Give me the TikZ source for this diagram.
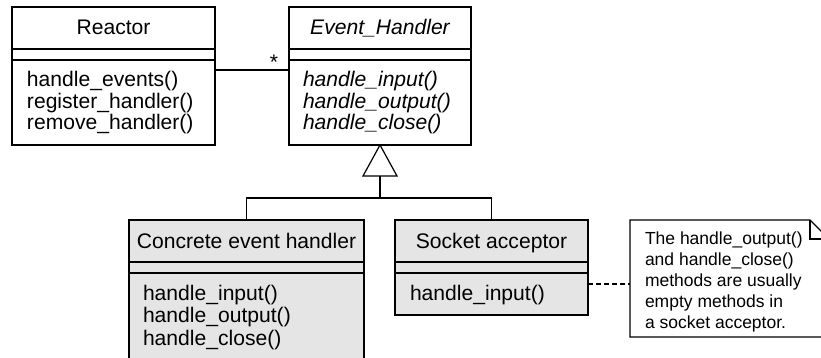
\documentclass[tikz,border=0pt]{standalone}
\usepackage{fontspec}
\setmainfont{Liberation Sans}
\usetikzlibrary{calc}
\begin{document}
\begin{tikzpicture}[x=1pt,y=-1pt,
  line width=1.2pt,
  classbox/.style={draw=black,inner sep=0pt,outer sep=0pt,anchor=north west},
  implbox/.style={classbox,fill=black!10},
  txt/.style={inner sep=0pt,outer sep=0pt,font=\fontsize{21.1}{22}\selectfont},
  ttl/.style={txt,anchor=base},
  member/.style={txt,anchor=base west},
  notetxt/.style={inner sep=0pt,outer sep=0pt,anchor=base west,font=\fontsize{17.5}{21}\selectfont}]
\clip (0,0) rectangle (821,358);
\fill[white] (0,0) rectangle (821,358);

% Reactor class
\node[classbox,minimum width=203pt,minimum height=138pt] (reactor) at (12,7) {};
\draw (12,49) -- (215,49) (12,60) -- (215,60);
\node[ttl] (reactorT) at (113.5,35) {Reactor};
\node[member] (r1) at (27,87) {handle\_events()};
\node[member] (r2) at (27,108.5) {register\_handler()};
\node[member] (r3) at (27,130) {remove\_handler()};

% Abstract Event_Handler class
\node[classbox,minimum width=182pt,minimum height=138pt] (evh) at (289,7) {};
\draw (289,49) -- (471,49) (289,60) -- (471,60);
\node[ttl] (evhT) at (380,35) {\itshape Event\_Handler};
\node[member] (e1) at (303,87) {\itshape handle\_input()};
\node[member] (e2) at (303,108.5) {\itshape handle\_output()};
\node[member] (e3) at (303,130) {\itshape handle\_close()};

% association with multiplicity
\draw ([yshift=6pt]reactor.east) -- ([yshift=6pt]evh.east -| evh.west);
\node[txt,anchor=base] (mult) at (274,70) {*};

% Concrete event handler
\node[implbox,minimum width=235pt,minimum height=150pt] (conc) at (129,220) {};
\draw (129,262) -- (364,262) (129,273) -- (364,273);
\node[ttl] (concT) at (246.5,248) {Concrete event handler};
\node[member] (c1) at (143,300) {handle\_input()};
\node[member] (c2) at (143,322.5) {handle\_output()};
\node[member] (c3) at (143,345) {handle\_close()};

% Socket acceptor
\node[implbox,minimum width=193pt,minimum height=95pt] (sock) at (395,220) {};
\draw (395,262) -- (588,262) (395,273) -- (588,273);
\node[ttl] (sockT) at (491.5,248) {Socket acceptor};
\node[member] (s1) at (410,300) {handle\_input()};

% generalization
\draw (evh.south) -- ++(-17,31) coordinate (tl) -- ++(34,0) -- cycle;
\coordinate (tb) at ($(evh.south)+(0,31)$);
\draw (tb) -- (tb |- 0,198);
\draw (conc.north) -- ++(0,-22) -| (sock.north);

% note
\node[inner sep=0pt,outer sep=0pt,anchor=north west,minimum width=199pt,minimum height=117pt] (note) at (630,220) {};
\draw[fill=white] (630,220) -- (810,220) -- (829,239) -- (829,337) -- (630,337) -- cycle;
\draw (810,220) -- (810,239) -- (829,239);
\node[notetxt] (n1) at (645,244) {The handle\_output()};
\node[notetxt] (n2) at (645,265) {and handle\_close()};
\node[notetxt] (n3) at (645,286) {methods are usually};
\node[notetxt] (n4) at (645,307) {empty methods in};
\node[notetxt] (n5) at (645,328) {a socket acceptor.};
\draw[dashed,dash pattern=on 5pt off 3pt] ([yshift=-16.5pt]sock.east) coordinate (d) -- (d -| note.west);
\end{tikzpicture}
\end{document}
